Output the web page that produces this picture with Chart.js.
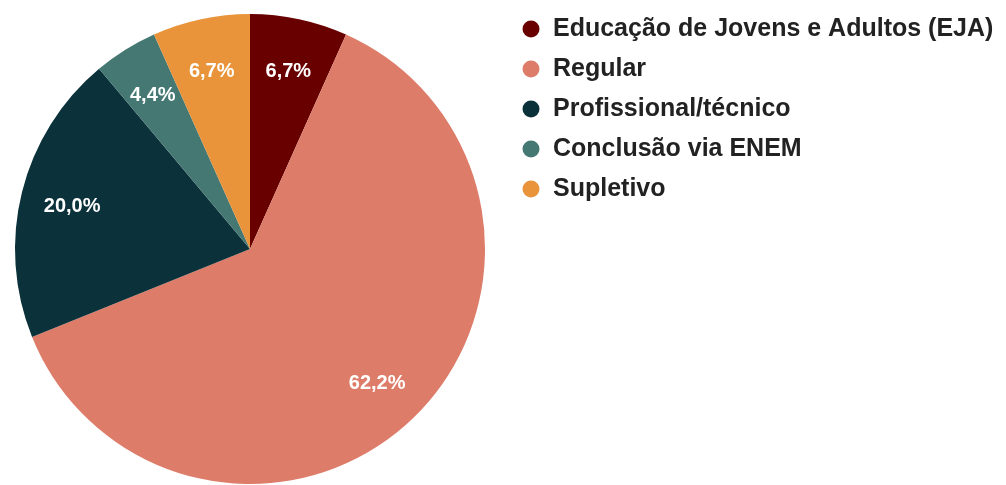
<!DOCTYPE html>
<html>
<head>
<meta charset="utf-8">
<script src="https://cdn.jsdelivr.net/npm/chart.js@4/dist/chart.umd.min.js"></script>
<style>
  html, body { margin: 0; padding: 0; background: #ffffff; }
  #wrap { width: 1006px; height: 485px; }
</style>
</head>
<body>
<div id="wrap"><canvas id="c" width="1006" height="485"></canvas></div>
<script>
const categories = [
  'Educação de Jovens e Adultos (EJA)',
  'Regular',
  'Profissional/técnico',
  'Conclusão via ENEM',
  'Supletivo'
];
const shares = [6.7, 62.2, 20.0, 4.4, 6.7];
const sliceColors = ['#680000', '#de7c6a', '#0b313a', '#457872', '#e9943a'];

const FONT = "'Liberation Sans', Arial, Helvetica, sans-serif";

const sliceLabels = {
  id: 'sliceLabels',
  afterDatasetsDraw(chart) {
    const ctx = chart.ctx;
    const meta = chart.getDatasetMeta(0);
    ctx.save();
    ctx.fillStyle = '#ffffff';
    ctx.font = 'bold 20px ' + FONT;
    ctx.textAlign = 'center';
    ctx.textBaseline = 'middle';
    meta.data.forEach((arc, i) => {
      const p = arc.getProps(['x', 'y', 'startAngle', 'endAngle', 'outerRadius'], true);
      const mid = (p.startAngle + p.endAngle) / 2;
      const r = p.outerRadius * 0.78;
      const txt = shares[i].toFixed(1).replace('.', ',') + '%';
      ctx.fillText(txt, p.x + Math.cos(mid) * r, p.y + Math.sin(mid) * r + 2);
    });
    ctx.restore();
  }
};

const placeLegend = {
  id: 'placeLegend',
  afterLayout(chart) {
    const lg = chart.legend;
    if (!lg) return;
    lg.left = 506.5;
    lg.top = 1.5;
    lg.right = 1006;
    lg.width = lg.right - lg.left;
    lg.bottom = 485;
    lg.height = lg.bottom - lg.top;
  }
};

new Chart(document.getElementById('c'), {
  type: 'pie',
  data: {
    labels: categories,
    datasets: [{
      data: shares,
      backgroundColor: sliceColors,
      borderWidth: 0,
      hoverOffset: 0,
      offset: 0
    }]
  },
  options: {
    responsive: false,
    animation: false,
    events: [],
    layout: { padding: { left: 14, top: 14, right: 520, bottom: 1 } },
    plugins: {
      tooltip: { enabled: false },
      legend: {
        position: 'chartArea',
        align: 'start',
        labels: {
          usePointStyle: true,
          pointStyle: 'circle',
          boxWidth: 19,
          boxHeight: 12,
          padding: 15,
          color: '#222222',
          font: { family: FONT, size: 25, weight: 'bold' },
          generateLabels(chart) {
            return categories.map((t, i) => ({
              text: t,
              fillStyle: sliceColors[i],
              strokeStyle: sliceColors[i],
              lineWidth: 0,
              pointStyle: 'circle',
              fontColor: '#222222',
              hidden: false,
              index: i
            }));
          }
        }
      }
    }
  },
  plugins: [sliceLabels, placeLegend]
});
</script>
</body>
</html>
